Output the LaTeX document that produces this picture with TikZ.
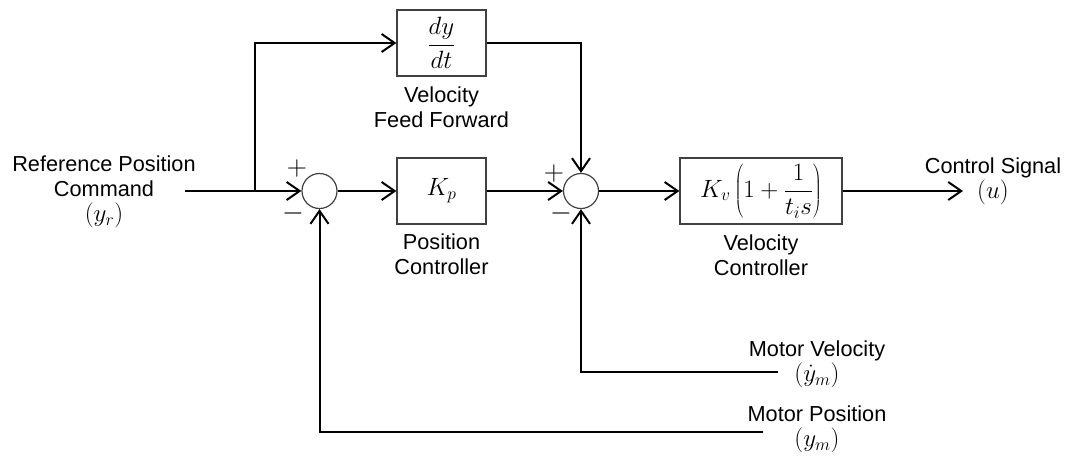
\RequirePackage{fix-cm}
\documentclass[tikz,border=0pt]{standalone}
\usepackage{fontspec}
\setmainfont{Liberation Sans}
\usetikzlibrary{arrows.meta}
\newcommand{\bigmath}[1]{{\fontsize{25}{28}\selectfont$#1$}}
\begin{document}
\begin{tikzpicture}[x=1pt,y=-1pt,
  font=\fontsize{21.7}{25}\selectfont,
  sig/.style={line width=2pt,-{Straight Barb[length=13pt,width=18pt,line width=2pt]}},
  block/.style={draw=black!75,line width=1.2pt,minimum height=66pt,inner sep=0pt},
  sumnode/.style={draw=black!75,line width=1.2pt,circle,minimum size=35pt,inner sep=0pt},
  lbl/.style={align=center,inner sep=0pt},
  sgn/.style={inner sep=0pt,font=\fontsize{28}{28}\selectfont}]
\useasboundingbox (0,0) rectangle (1068,456);
% blocks
\node[block,minimum width=89pt] (ff) at (441.5,43) {\bigmath{\displaystyle\frac{dy}{dt}}};
\node[block,minimum width=89pt] (kp) at (441.5,191) {\bigmath{K_p}};
\node[block,minimum width=162pt] (kv) at (761,191) {\bigmath{\displaystyle K_v\left(1+\frac{1}{t_i s}\right)}};
\node[sumnode] (s1) at (319.5,191) {};
\node[sumnode] (s2) at (581,191) {};
% signs
\node[sgn] at (297,168) {$+$};
\node[sgn] at (293,213) {$-$};
\node[sgn] at (554,173) {$+$};
\node[sgn] at (561,213) {$-$};
% labels
\node[lbl] (ref) at (104,192) {Reference Position\\Command\\\bigmath{(y_r)}};
\node[lbl] at (441.5,107) {Velocity\\Feed Forward};
\node[lbl] at (441.5,254) {Position\\Controller};
\node[lbl] at (761,255) {Velocity\\Controller};
\node[lbl] (u) at (993,181) {Control Signal\\\bigmath{(u)}};
\node[lbl] (mv) at (817,364) {Motor Velocity\\\bigmath{(\dot{y}_m)}};
\node[lbl] (mp) at (817,429) {Motor Position\\\bigmath{(y_m)}};
% connectors
\coordinate (in) at (185,191);
\coordinate (br) at (255,191);
\coordinate (out) at (963,191);
\coordinate (vel) at (778,372);
\coordinate (pos) at (763,432);
\draw[sig] (in) -- (s1.west);
\draw[sig] (br) |- (ff.west);
\draw[sig] (ff.east) -| (s2.north);
\draw[sig] (s1.east) -- (kp.west);
\draw[sig] (kp.east) -- (s2.west);
\draw[sig] (s2.east) -- (kv.west);
\draw[sig] (kv.east) -- (out);
\draw[sig] (vel) -| (s2.south);
\draw[sig] (pos) -| (s1.south);
\end{tikzpicture}
\end{document}
